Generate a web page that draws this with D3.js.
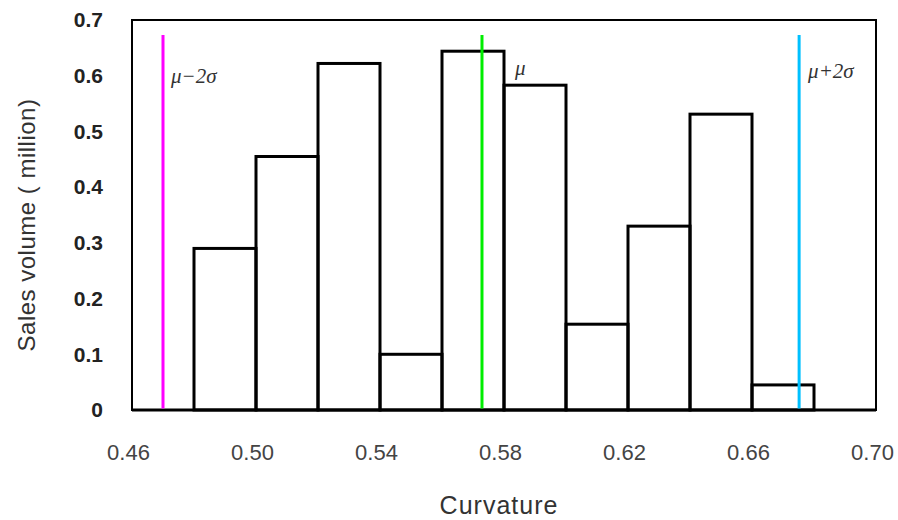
<!DOCTYPE html>
<html><head><meta charset="utf-8">
<script src="https://cdn.jsdelivr.net/npm/d3@7"></script>
<style>body{margin:0;background:#fff}svg{display:block}</style>
</head><body>
<svg id="c" width="898" height="520"></svg>
<script>
const binStarts = [0.46,0.48,0.50,0.52,0.54,0.56,0.58,0.60,0.62,0.64,0.66,0.68];
const binWidth = 0.02;
const salesVolume = [0,0.29,0.455,0.622,0.10,0.644,0.583,0.154,0.33,0.531,0.045,0];
const xTicks = [0.46,0.50,0.54,0.58,0.62,0.66,0.70];
const yTicks = [0,0.1,0.2,0.3,0.4,0.5,0.6,0.7];
const markerNames = ["μ−2σ","μ","μ+2σ"];
const markerValues = [0.470,0.5729,0.6752];
const markerColors = ["#ff00ff","#00ee00","#00c0ff"];
const markerTop = 0.673;

const svg = d3.select("#c");
const x = d3.scaleLinear().domain([0.46,0.70]).range([132,876]);
const y = d3.scaleLinear().domain([0,0.7]).range([410,20]);

// frame
svg.append("rect").attr("x",x(0.46)).attr("y",y(0.7))
  .attr("width",x(0.70)-x(0.46)).attr("height",y(0)-y(0.7))
  .attr("fill","none").attr("stroke","#000").attr("stroke-width",2);

// bars
svg.append("g").selectAll("rect").data(binStarts).join("rect")
  .attr("x",d=>x(d)).attr("width",(d)=>x(d+binWidth)-x(d))
  .attr("y",(d,i)=>y(salesVolume[i])).attr("height",(d,i)=>y(0)-y(salesVolume[i]))
  .attr("fill","none").attr("stroke","#000").attr("stroke-width",3);
svg.append("line").attr("x1",x(0.46)).attr("x2",x(0.70)).attr("y1",y(0)).attr("y2",y(0))
  .attr("stroke","#000").attr("stroke-width",3);

// marker lines
svg.append("g").selectAll("line").data(markerValues).join("line")
  .attr("x1",d=>x(d)).attr("x2",d=>x(d)).attr("y1",y(markerTop)).attr("y2",y(0)-1.5)
  .attr("stroke",(d,i)=>markerColors[i]).attr("stroke-width",3);
const labelOffsets = [[8,83],[33,75],[9,78]];
svg.append("g").selectAll("text").data(markerNames).join("text")
  .attr("x",(d,i)=>x(markerValues[i])+labelOffsets[i][0]).attr("y",(d,i)=>labelOffsets[i][1])
  .attr("font-family","'Liberation Serif','DejaVu Serif',serif").attr("font-style","italic")
  .attr("font-size",21).attr("fill","#333").text(d=>d);

// y axis labels
const yAxis = d3.axisLeft(y).tickValues(yTicks).tickSize(0).tickPadding(29)
  .tickFormat(d=>d===0?"0":d3.format(".1f")(d));
const gy = svg.append("g").attr("transform","translate(132,0)").call(yAxis);
gy.select(".domain").remove();
gy.selectAll("text").attr("font-family","'Liberation Sans',Arial,sans-serif")
  .attr("font-size",21).attr("font-weight","bold").attr("fill","#222");

// x axis labels
const xAxis = d3.axisBottom(x).tickValues(xTicks).tickSize(0).tickPadding(34)
  .tickFormat(d3.format(".2f"));
const gx = svg.append("g").attr("transform","translate(-4,410)").call(xAxis);
gx.select(".domain").remove();
gx.selectAll("text").attr("font-family","'Liberation Sans',Arial,sans-serif")
  .attr("font-size",22).attr("fill","#444");

// titles
svg.append("text").attr("x",499).attr("y",514)
  .attr("text-anchor","middle").attr("font-family","'Liberation Sans',Arial,sans-serif")
  .attr("font-size",25).attr("fill","#333").attr("letter-spacing",1).text("Curvature");
svg.append("text").attr("transform","translate(35,225) rotate(-90)")
  .attr("text-anchor","middle").attr("font-family","'Liberation Sans',Arial,sans-serif")
  .attr("font-size",24).attr("fill","#333").attr("letter-spacing",0.5).text("Sales volume ( million)");
</script>
</body></html>
